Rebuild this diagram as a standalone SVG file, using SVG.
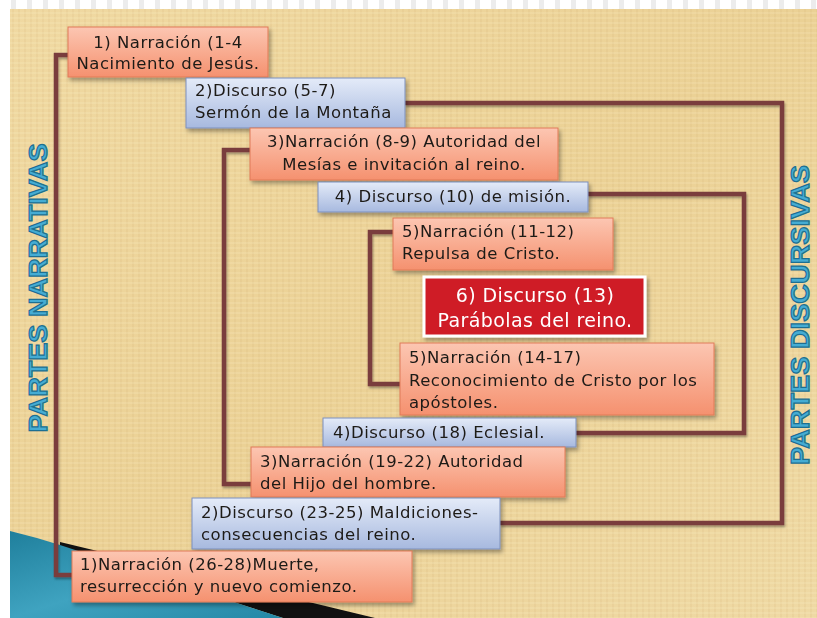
<svg xmlns="http://www.w3.org/2000/svg" width="817" height="618" viewBox="0 0 817 618">
<defs>
<linearGradient id="gSal" x1="0" y1="0" x2="0" y2="1"><stop offset="0" stop-color="#fcc6b2"/><stop offset="1" stop-color="#f5916f"/></linearGradient>
<linearGradient id="gBlu" x1="0" y1="0" x2="0" y2="1"><stop offset="0" stop-color="#e4ebf8"/><stop offset="1" stop-color="#a7b9df"/></linearGradient>
<linearGradient id="gTeal" x1="0" y1="0" x2="1" y2="1"><stop offset="0" stop-color="#1f7f9c"/><stop offset="0.5" stop-color="#3fa3c0"/><stop offset="1" stop-color="#2488a6"/></linearGradient>
<linearGradient id="gPar" x1="0" y1="0" x2="1" y2="1"><stop offset="0" stop-color="#f0d9a2"/><stop offset="0.5" stop-color="#ebd195"/><stop offset="1" stop-color="#efd9a4"/></linearGradient>
<pattern id="tex" width="6" height="5" patternUnits="userSpaceOnUse"><line x1="1" y1="0" x2="1" y2="5" stroke="#c29f5e" stroke-opacity="0.2" stroke-width="1"/><line x1="0" y1="3" x2="6" y2="3" stroke="#fff6d8" stroke-opacity="0.28" stroke-width="1"/></pattern>
<pattern id="stripe" width="16" height="9" patternUnits="userSpaceOnUse"><rect width="16" height="9" fill="#ffffff"/><rect x="11" width="5" height="9" fill="#ececec"/></pattern>
<filter id="sh" x="-10%" y="-20%" width="125%" height="150%"><feDropShadow dx="2" dy="3" stdDeviation="2" flood-color="#000" flood-opacity="0.35"/></filter>
<filter id="lsh" x="-20%" y="-20%" width="140%" height="140%"><feDropShadow dx="1" dy="2" stdDeviation="1.2" flood-color="#000" flood-opacity="0.35"/></filter>
<style>
.sal{fill:url(#gSal);stroke:#e07a58;stroke-width:1}
.blu{fill:url(#gBlu);stroke:#7d90bd;stroke-width:1}
.t{font-family:"DejaVu Sans","Liberation Sans",sans-serif;font-size:16.5px;letter-spacing:0.5px;fill:#1e1a18}
.c{text-anchor:middle}
.tw{font-family:"DejaVu Sans","Liberation Sans",sans-serif;font-size:19px;letter-spacing:0.4px;fill:#ffffff;text-anchor:middle}
.con{fill:none;stroke:#7a3e3e;stroke-width:4.5;stroke-linejoin:miter}
.side{font-family:"Liberation Sans",Arial,sans-serif;font-weight:bold;font-size:26px;fill:#45acd3;stroke:#1d6f92;stroke-width:1.2;text-anchor:middle}
</style>
</defs>
<rect width="817" height="618" fill="#ffffff"/>
<rect x="0" y="0" width="817" height="9" fill="url(#stripe)"/>
<rect x="10" y="9" width="807" height="609" fill="url(#gPar)"/>
<rect x="10" y="9" width="807" height="609" fill="url(#tex)"/>
<g id="decor">
<polygon points="60,542 375,618 283,618 60,546" fill="#111111"/>
<path d="M10,531 Q35,537 60,545 L283,618 L10,618 Z" fill="url(#gTeal)"/>
</g>
<text class="side" transform="translate(47,288) rotate(-90)" textLength="289" lengthAdjust="spacingAndGlyphs">PARTES NARRATIVAS</text>
<text class="side" transform="translate(809,315) rotate(-90)" textLength="300" lengthAdjust="spacingAndGlyphs">PARTES DISCURSIVAS</text>
<g id="connectors" filter="url(#lsh)">
<path class="con" d="M68,55 H56 V575 H74"/>
<path class="con" d="M250,150 H224 V484 H252"/>
<path class="con" d="M393,232 H370 V384 H400"/>
<path class="con" d="M405,103 H782 V523 H500"/>
<path class="con" d="M588,194 H744 V433 H576"/>
</g>
<g id="n1" filter="url(#sh)"><rect class="sal" x="68" y="27" width="200" height="50"/><text class="t c" x="168" y="48">1) Narración (1-4</text><text class="t c" x="168" y="69">Nacimiento de Jesús.</text></g>
<g id="n2" filter="url(#sh)"><rect class="blu" x="186" y="78" width="219" height="50"/><text class="t" x="195" y="96">2)Discurso (5-7)</text><text class="t" x="195" y="118">Sermón de la Montaña</text></g>
<g id="n3" filter="url(#sh)"><rect class="sal" x="250" y="128" width="308" height="52"/><text class="t c" x="404" y="147">3)Narración (8-9) Autoridad del</text><text class="t c" x="404" y="170">Mesías e invitación al reino.</text></g>
<g id="n4" filter="url(#sh)"><rect class="blu" x="318" y="182" width="270" height="30"/><text class="t c" x="453" y="202">4) Discurso (10) de misión.</text></g>
<g id="n5" filter="url(#sh)"><rect class="sal" x="393" y="218" width="220" height="52"/><text class="t" x="402" y="237">5)Narración (11-12)</text><text class="t" x="402" y="259">Repulsa de Cristo.</text></g>
<g id="n6" filter="url(#sh)"><rect x="424" y="277" width="221" height="59" fill="#cf1c28" stroke="#ffffff" stroke-width="3"/><text class="tw" x="535" y="302">6) Discurso (13)</text><text class="tw" x="535" y="327">Parábolas del reino.</text></g>
<g id="n7" filter="url(#sh)"><rect class="sal" x="400" y="343" width="314" height="72"/><text class="t" x="409" y="363">5)Narración (14-17)</text><text class="t" x="409" y="386">Reconocimiento de Cristo por los</text><text class="t" x="409" y="408">apóstoles.</text></g>
<g id="n8" filter="url(#sh)"><rect class="blu" x="323" y="418" width="253" height="29"/><text class="t" x="333" y="438">4)Discurso (18) Eclesial.</text></g>
<g id="n9" filter="url(#sh)"><rect class="sal" x="251" y="447" width="314" height="50"/><text class="t" x="260" y="467">3)Narración (19-22) Autoridad</text><text class="t" x="260" y="489">del Hijo del hombre.</text></g>
<g id="n10" filter="url(#sh)"><rect class="blu" x="192" y="498" width="308" height="51"/><text class="t" x="201" y="518">2)Discurso (23-25) Maldiciones-</text><text class="t" x="201" y="540">consecuencias del reino.</text></g>
<g id="n11" filter="url(#sh)"><rect class="sal" x="72" y="551" width="340" height="51"/><text class="t" x="80" y="570">1)Narración (26-28)Muerte,</text><text class="t" x="80" y="592">resurrección y nuevo comienzo.</text></g>
</svg>
